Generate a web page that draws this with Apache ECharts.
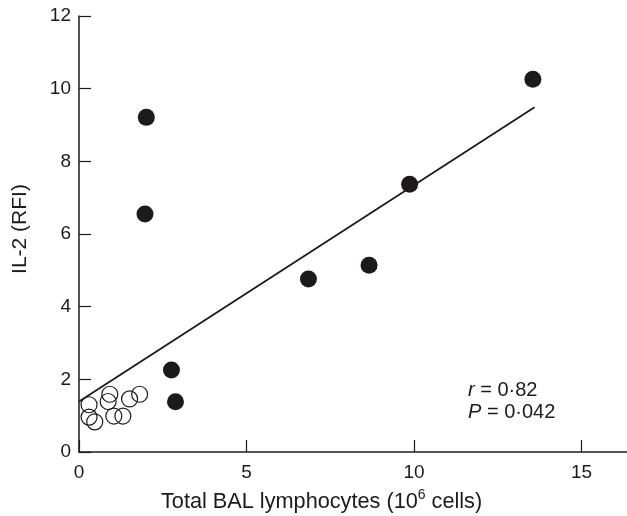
<!DOCTYPE html>
<html>
<head>
<meta charset="utf-8">
<script src="https://cdn.jsdelivr.net/npm/echarts@6/dist/echarts.min.js"></script>
<style>
  html, body { margin: 0; padding: 0; background: #fff; }
  #chart { width: 627px; height: 516px; }
</style>
</head>
<body>
<div id="chart"></div>
<script>
// filled circles
const filledX = [2.01, 1.97, 2.76, 2.88, 6.85, 8.66, 9.87, 13.55];
const filledY = [9.21, 6.55, 2.26, 1.38, 4.76, 5.14, 7.37, 10.26];
// open circles
const openX = [0.30, 0.30, 0.47, 0.92, 0.87, 1.04, 1.31, 1.51, 1.81];
const openY = [1.30, 0.96, 0.83, 1.59, 1.39, 0.99, 0.99, 1.46, 1.59];
// regression line ends
const lineX = [0, 13.6];
const lineY = [1.39, 9.49];

const xTicks = [0, 5, 10, 15];
const yTicks = [0, 2, 4, 6, 8, 10, 12];

const ink = "#1c1a1b";
const font = "'Liberation Sans', Arial, sans-serif";

const chart = echarts.init(document.getElementById("chart"));
chart.setOption({
  animation: false,
  grid: { left: 79, top: 16, right: 0, bottom: 64 },
  xAxis: {
    type: "value",
    min: 0,
    max: 16.36,
    interval: 5,
    splitLine: { show: false },
    axisLine: { lineStyle: { color: ink, width: 1.5 } },
    axisTick: { inside: true, length: 12, lineStyle: { color: ink, width: 1.2 } },
    axisLabel: {
      showMaxLabel: false,
      margin: 11,
      color: ink,
      fontSize: 19,
      fontFamily: font,
      formatter: (v) => (xTicks.includes(v) ? String(v) : ""),
    },
  },
  yAxis: {
    type: "value",
    min: 0,
    max: 12,
    interval: 2,
    splitLine: { show: false },
    axisLine: { lineStyle: { color: ink, width: 1.5 } },
    axisTick: { inside: true, length: 12, lineStyle: { color: ink, width: 1.2 } },
    axisLabel: {
      margin: 8,
      color: ink,
      fontSize: 19,
      fontFamily: font,
      formatter: (v) => (yTicks.includes(v) ? String(v) : ""),
    },
  },
  series: [
    {
      type: "line",
      data: lineX.map((x, i) => [x, lineY[i]]),
      symbol: "none",
      lineStyle: { color: ink, width: 1.8 },
      z: 1,
    },
    {
      type: "scatter",
      data: openX.map((x, i) => [x, openY[i]]),
      symbolSize: 16,
      itemStyle: { color: "rgba(0,0,0,0)", borderColor: ink, borderWidth: 1.2, opacity: 1 },
      z: 2,
    },
    {
      type: "scatter",
      data: filledX.map((x, i) => [x, filledY[i]]),
      symbolSize: 17,
      itemStyle: { color: ink, opacity: 1 },
      z: 3,
    },
  ],
  graphic: [
    {
      type: "text",
      left: 161,
      top: 488,
      style: {
        text: "Total BAL lymphocytes (10{sup|6} cells)",
        fill: ink,
        font: "21.7px " + font,
        lineHeight: 28,
        rich: {
          sup: { fontSize: 14, fontFamily: font, fill: ink, verticalAlign: "top", lineHeight: 17 },
        },
      },
    },
    {
      type: "text",
      x: 20,
      y: 229,
      rotation: Math.PI / 2,
      style: {
        text: "IL-2 (RFI)",
        fill: ink,
        font: "21px " + font,
        align: "center",
        verticalAlign: "middle",
      },
    },
    {
      type: "text",
      left: 468,
      top: 379,
      style: {
        text: "{i|r} = 0·82\n{i|P} = 0·042",
        fill: ink,
        font: "20px " + font,
        lineHeight: 22,
        rich: {
          i: { fontStyle: "italic", fontSize: 20, fontFamily: font, fill: ink, lineHeight: 22 },
        },
      },
    },
  ],
});
</script>
</body>
</html>
